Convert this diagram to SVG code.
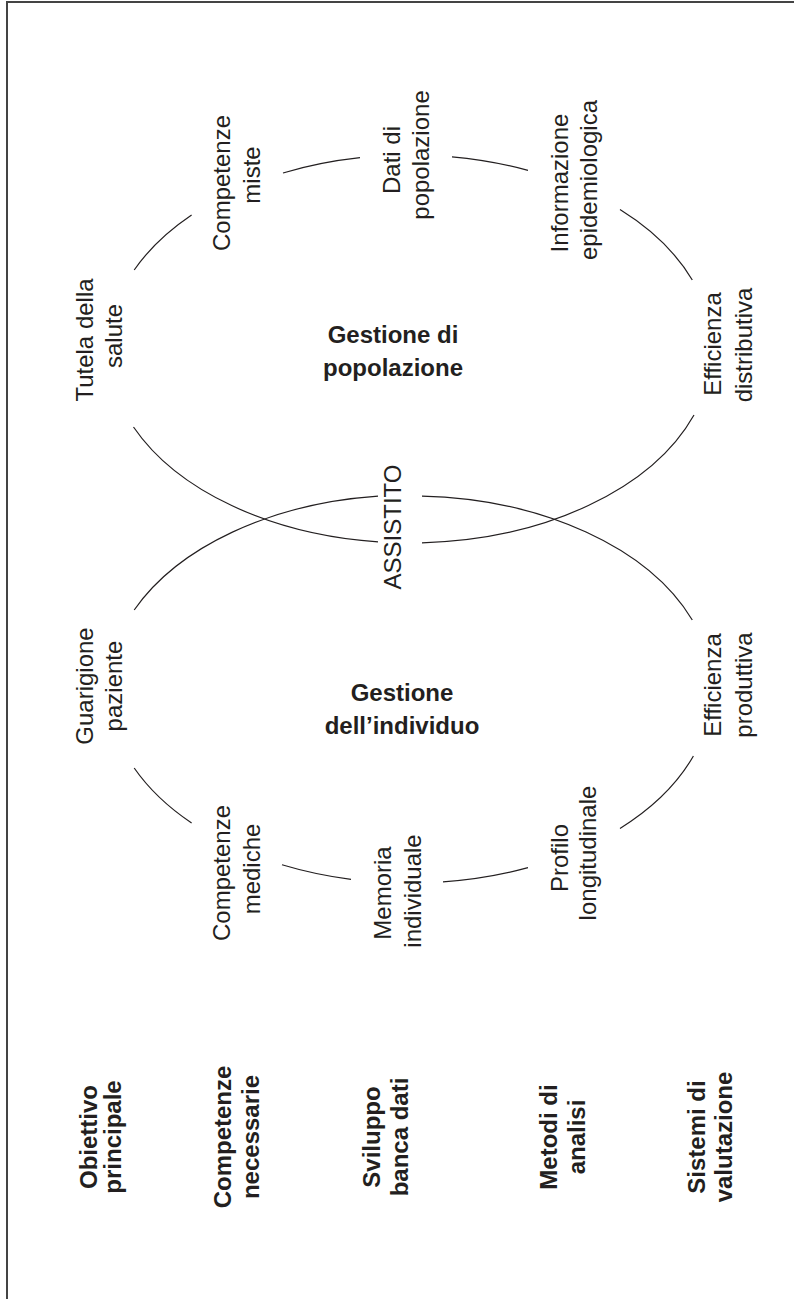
<svg xmlns="http://www.w3.org/2000/svg" width="794" height="1299" viewBox="0 0 794 1299">
<style>
.frame{fill:none;stroke:#444;stroke-width:2}
.arc{fill:none;stroke:#231f20;stroke-width:1.2}
.t{font-family:"Liberation Sans",Arial,Helvetica,sans-serif;font-size:24px;fill:#231f20;text-anchor:middle}
.b{font-weight:bold}
</style>
<rect width="794" height="1299" fill="#fff"/>
<path class="frame" d="M7,1299 V2 H794"/>
<g id="connectors">
  <g id="ellipse-popolazione">
    <path class="arc" d="M134.2,270 A302,194 0 0 1 191.6,215"/>
    <path class="arc" d="M283,173 A302,194 0 0 1 360,157.7"/>
    <path class="arc" d="M452,156.9 A302,194 0 0 1 528,170.4"/>
    <path class="arc" d="M620,209.6 A302,194 0 0 1 692.3,280"/>
    <path class="arc" d="M694,415 A302,194 0 0 1 422,542.8"/>
    <path class="arc" d="M378,541.9 A302,194 0 0 1 133.5,427"/>
  </g>
  <g id="ellipse-individuo">
    <path class="arc" d="M134.2,610 A302,194 0 0 1 378,496.1"/>
    <path class="arc" d="M422,496.1 A302,194 0 0 1 692.3,620"/>
    <path class="arc" d="M693.4,756 A302,194 0 0 1 620,828.4"/>
    <path class="arc" d="M528,867.6 A302,194 0 0 1 443,881.8"/>
    <path class="arc" d="M351,879.3 A302,194 0 0 1 282,864.7"/>
    <path class="arc" d="M191.6,823 A302,194 0 0 1 134.2,768"/>
  </g>
</g>
<g id="tutela"><text class="t" transform="translate(93.3,340) rotate(-90)">Tutela della</text><text class="t" transform="translate(122,336) rotate(-90)">salute</text></g>
<g id="competenze-miste"><text class="t" transform="translate(229.5,183) rotate(-90)">Competenze</text><text class="t" transform="translate(260,175) rotate(-90)">miste</text></g>
<g id="dati-popolazione"><text class="t" transform="translate(400,160) rotate(-90)">Dati di</text><text class="t" transform="translate(429,155) rotate(-90)">popolazione</text></g>
<g id="informazione"><text class="t" transform="translate(568,183) rotate(-90)">Informazione</text><text class="t" transform="translate(597,180) rotate(-90)">epidemiologica</text></g>
<g id="efficienza-distributiva"><text class="t" transform="translate(721,344) rotate(-90)">Efficienza</text><text class="t" transform="translate(752,345) rotate(-90)">distributiva</text></g>
<g id="gestione-popolazione"><text class="t b" x="393" y="343">Gestione di</text><text class="t b" x="393" y="375.5">popolazione</text></g>
<g id="assistito"><text class="t" transform="translate(401,527) rotate(-90)">ASSISTITO</text></g>
<g id="guarigione"><text class="t" transform="translate(93.3,686) rotate(-90)">Guarigione</text><text class="t" transform="translate(122,686) rotate(-90)">paziente</text></g>
<g id="gestione-individuo"><text class="t b" x="402" y="700.5">Gestione</text><text class="t b" x="402" y="734">dell’individuo</text></g>
<g id="efficienza-produttiva"><text class="t" transform="translate(721,685) rotate(-90)">Efficienza</text><text class="t" transform="translate(752,685) rotate(-90)">produttiva</text></g>
<g id="competenze-mediche"><text class="t" transform="translate(229.5,873) rotate(-90)">Competenze</text><text class="t" transform="translate(260,869) rotate(-90)">mediche</text></g>
<g id="memoria"><text class="t" transform="translate(391,893) rotate(-90)">Memoria</text><text class="t" transform="translate(421,891) rotate(-90)">individuale</text></g>
<g id="profilo"><text class="t" transform="translate(568,858) rotate(-90)">Profilo</text><text class="t" transform="translate(596,853) rotate(-90)">longitudinale</text></g>
<g id="obiettivo"><text class="t b" transform="translate(97,1137) rotate(-90)">Obiettivo</text><text class="t b" transform="translate(121,1137) rotate(-90)">principale</text></g>
<g id="competenze-necessarie"><text class="t b" transform="translate(231,1137) rotate(-90)">Competenze</text><text class="t b" transform="translate(259,1137) rotate(-90)">necessarie</text></g>
<g id="sviluppo"><text class="t b" transform="translate(380,1137) rotate(-90)">Sviluppo</text><text class="t b" transform="translate(408,1137) rotate(-90)">banca dati</text></g>
<g id="metodi"><text class="t b" transform="translate(557,1137) rotate(-90)">Metodi di</text><text class="t b" transform="translate(585,1137) rotate(-90)">analisi</text></g>
<g id="sistemi"><text class="t b" transform="translate(705,1137) rotate(-90)">Sistemi di</text><text class="t b" transform="translate(732,1137) rotate(-90)">valutazione</text></g>
</svg>
